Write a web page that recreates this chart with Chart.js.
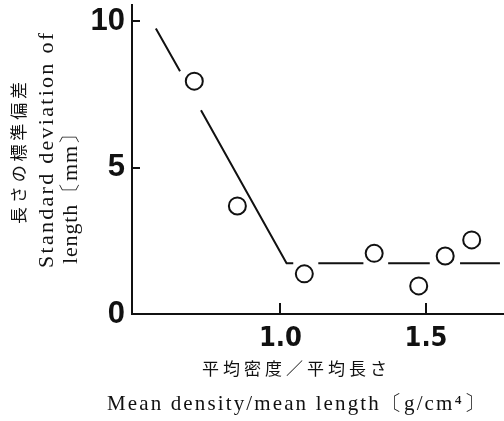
<!DOCTYPE html>
<html>
<head>
<meta charset="utf-8">
<script src="https://cdn.jsdelivr.net/npm/chart.js@4"></script>
<style>
  html, body { margin: 0; padding: 0; background: #fff; }
  #wrap { width: 504px; height: 421px; position: relative; }
</style>
</head>
<body>
<div id="wrap"><canvas id="c"></canvas></div>
<script>
// Measured samples: mean density / mean length vs. standard deviation of length
const sampleX = [0.704, 0.852, 1.082, 1.322, 1.475, 1.566, 1.657];
const sampleY = [7.95, 3.69, 1.37, 2.07, 0.96, 1.98, 2.53];

// Fitted trend line (broken where it passes the sample markers)
const trendX = [0.572, 0.655, 0.69, 0.727, 1.021, 1.044, 1.087, 1.130, 1.285, 1.33, 1.370, 1.513, 1.565, 1.617, 1.754];
const trendY = [9.75, 8.29, null, 6.96, 1.73, 1.73, null, 1.73, 1.73, null, 1.73, 1.73, null, 1.73, 1.73];

// Axis ticks
const xTickValues = [1.0, 1.5];
const yTickValues = [0, 5, 10];

// Axis titles
const yTitleJa = '長さの標準偏差';
const yTitleEn1 = 'Standard deviation of';
const yTitleEn2 = 'length〔mm〕';
const xTitleJa = '平均密度／平均長さ';
const xTitleEn = 'Mean density/mean length〔g/cm⁴〕';

const INK = '#111';
const SERIF = '"Liberation Serif", "DejaVu Serif", serif';
const CJK = '"Noto Sans CJK JP", sans-serif';

function fitText(ctx, text, length) {
  ctx.letterSpacing = '0px';
  const w = ctx.measureText(text).width;
  const n = Array.from(text).length;
  const ls = n > 1 ? (length - w) / (n - 1) : 0;
  ctx.letterSpacing = ls.toFixed(2) + 'px';
}

// Inward tick marks and the two-line axis titles
const decorations = {
  id: 'decorations',
  afterDraw(chart) {
    const ctx = chart.ctx;
    const xs = chart.scales.x, ys = chart.scales.y;
    const area = chart.chartArea;
    ctx.save();
    ctx.strokeStyle = INK;
    ctx.lineWidth = 2;
    yTickValues.forEach(v => {
      if (v === 0) return;
      const py = Math.round(ys.getPixelForValue(v));
      ctx.beginPath();
      ctx.moveTo(area.left, py);
      ctx.lineTo(area.left + 8, py);
      ctx.stroke();
    });
    xTickValues.forEach(v => {
      const px = Math.round(xs.getPixelForValue(v));
      ctx.beginPath();
      ctx.moveTo(px, area.bottom);
      ctx.lineTo(px, area.bottom - 11);
      ctx.stroke();
    });

    ctx.fillStyle = INK;
    ctx.textAlign = 'left';

    // y-axis title, rotated
    const vtext = (text, font, x, yStart, yEnd, baseline) => {
      ctx.save();
      ctx.font = font;
      ctx.textBaseline = baseline;
      fitText(ctx, text, yStart - yEnd);
      ctx.translate(x, yStart);
      ctx.rotate(-Math.PI / 2);
      ctx.fillText(text, 0, 0);
      ctx.restore();
    };
    vtext(yTitleJa, '17px ' + CJK, 18.5, 224, 82, 'middle');
    vtext(yTitleEn1, '22px ' + SERIF, 53, 268, 33, 'alphabetic');
    vtext(yTitleEn2, '22px ' + SERIF, 77, 264, 123, 'alphabetic');

    // x-axis title
    const htext = (text, font, xStart, xEnd, y, baseline) => {
      ctx.save();
      ctx.font = font;
      ctx.textBaseline = baseline;
      fitText(ctx, text, xEnd - xStart);
      ctx.fillText(text, xStart, y);
      ctx.restore();
    };
    htext(xTitleJa, '17px ' + CJK, 202, 387, 369, 'middle');
    htext(xTitleEn, '21px ' + SERIF, 107, 485, 410, 'alphabetic');
    ctx.restore();
  }
};

new Chart(document.getElementById('c'), {
  type: 'scatter',
  data: {
    datasets: [
      {
        data: sampleX.map((x, i) => ({ x, y: sampleY[i] })),
        pointRadius: 8.5,
        pointBorderWidth: 2,
        pointBackgroundColor: '#fff',
        pointBorderColor: INK,
        showLine: false
      },
      {
        data: trendX.map((x, i) => ({ x, y: trendY[i] })),
        showLine: true,
        spanGaps: false,
        pointRadius: 0,
        borderColor: INK,
        borderWidth: 2
      }
    ]
  },
  plugins: [decorations],
  options: {
    responsive: true,
    maintainAspectRatio: false,
    animation: false,
    layout: { autoPadding: false, padding: { top: 5, right: 0, left: 0, bottom: 0 } },
    plugins: { legend: { display: false }, tooltip: { enabled: false } },
    scales: {
      x: {
        type: 'linear',
        min: 0.49,
        max: 1.768,
        grid: { display: false },
        border: { display: true, color: INK, width: 2 },
        afterBuildTicks: s => { s.ticks = xTickValues.map(v => ({ value: v })); },
        afterFit: s => { s.height = 107; s.paddingLeft = 0; s.paddingRight = 0; },
        ticks: {
          color: INK,
          padding: 1,
          maxRotation: 0,
          autoSkip: false,
          font: { family: '"Liberation Sans Narrow", "DejaVu Sans Condensed", "Liberation Sans", sans-serif', size: 27, weight: 'bold' },
          callback: v => Number(v).toFixed(1)
        }
      },
      y: {
        type: 'linear',
        min: 0,
        max: 10.55,
        grid: { display: false },
        border: { display: true, color: INK, width: 2 },
        afterBuildTicks: s => { s.ticks = yTickValues.map(v => ({ value: v })); },
        afterFit: s => { s.width = 132; s.paddingTop = 0; s.paddingBottom = 0; },
        ticks: {
          color: INK,
          padding: -1,
          autoSkip: false,
          font: { family: '"Liberation Sans", "DejaVu Sans", sans-serif', size: 31, weight: 'bold' },
          callback: v => String(v)
        }
      }
    }
  }
});
</script>
</body>
</html>
